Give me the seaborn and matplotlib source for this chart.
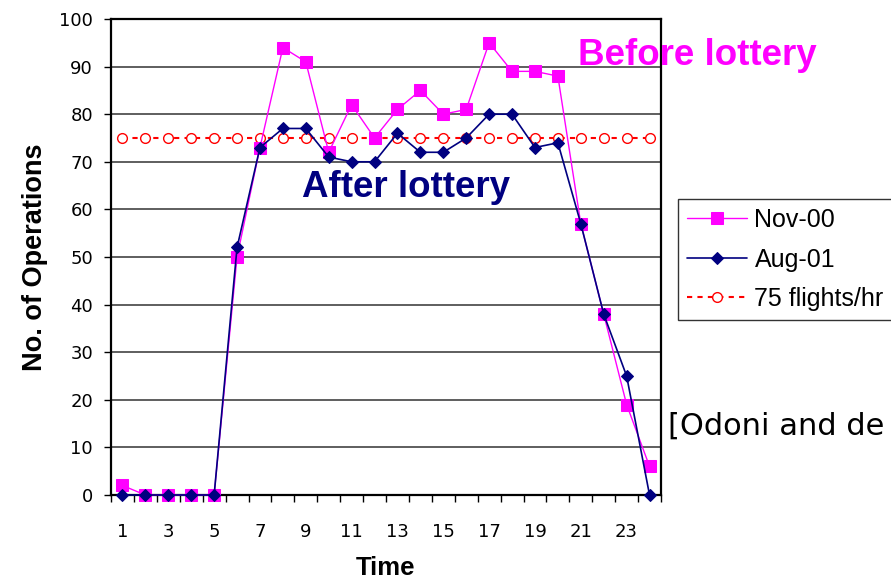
import matplotlib
matplotlib.use("Agg")
import matplotlib.pyplot as plt
import seaborn as sns
import numpy as np

# Hourly operations counts
hours = list(range(1, 25))
nov_00 = [2, 0, 0, 0, 0, 50, 73, 94, 91, 72, 82, 75, 81, 85, 80, 81, 95, 89, 89, 88, 57, 38, 19, 6]
aug_01 = [0, 0, 0, 0, 0, 52, 73, 77, 77, 71, 70, 70, 76, 72, 72, 75, 80, 80, 73, 74, 57, 38, 25, 0]
cap_level = 75
cap_line = [cap_level] * len(hours)

series_labels = ["Nov-00", "Aug-01", "75 flights/hr"]
x_tick_labels = [str(h) for h in range(1, 24, 2)]
y_ticks = list(range(0, 101, 10))

sns.set_style("white")
plt.rcParams["font.family"] = ["Liberation Sans", "DejaVu Sans"]
plt.rcParams.update({"text.color": "black", "axes.labelcolor": "black",
                     "xtick.color": "black", "ytick.color": "black"})

W, H = 891, 581
fig = plt.figure(figsize=(W / 100, H / 100), dpi=100)
ax = fig.add_axes([111 / W, 1 - 495 / H, 550 / W, 476 / H])

sns.lineplot(x=hours, y=nov_00, ax=ax, color="#FF00FF", lw=1.0, marker="s",
             markersize=8, markeredgecolor="#FF00FF", label=series_labels[0],
             clip_on=False, zorder=4)
sns.lineplot(x=hours, y=aug_01, ax=ax, color="#000080", lw=1.2, marker="D",
             markersize=6.5, markeredgecolor="#000080", label=series_labels[1],
             clip_on=False, zorder=5)
sns.lineplot(x=hours, y=cap_line, ax=ax, color="#FF0000", lw=1.5,
             linestyle=(0, (2.5, 2.5)), marker="o", markersize=7,
             markerfacecolor="white", markeredgecolor="#FF0000",
             markeredgewidth=1.0, label=series_labels[2], zorder=3)

ax.set_xlim(0.5, 24.5)
ax.set_ylim(0, 100)
ax.set_yticks(y_ticks)
ax.set_xticks(range(1, 24, 2))
ax.set_xticks(np.arange(0.5, 25, 1), minor=True)
ax.set_xticklabels(x_tick_labels, fontfamily="DejaVu Sans")
ax.set_yticklabels([str(v) for v in y_ticks], fontfamily="DejaVu Sans")
ax.tick_params(axis="x", which="major", length=0, pad=20, labelsize=13)
ax.tick_params(axis="x", which="minor", length=5, width=1, color="black", direction="out", bottom=True)
ax.tick_params(axis="y", which="major", length=5, width=1, color="black", direction="out",
               left=True, pad=8, labelsize=13)

ax.yaxis.grid(True, color="#333333", lw=1.1)
ax.set_axisbelow(True)
for side in ["left", "right", "top", "bottom"]:
    ax.spines[side].set_visible(True)
    ax.spines[side].set_color("black")
    ax.spines[side].set_linewidth(1.6)

ax.set_xlabel("Time", fontsize=18.5, fontweight="bold", labelpad=11)
ax.set_ylabel("No. of Operations", fontsize=19.5, fontweight="bold", labelpad=8)

handles, labels = ax.get_legend_handles_labels()
ax.get_legend().remove()
leg = fig.legend(handles, labels, loc="upper left", bbox_to_anchor=(678 / W, 1 - 199 / H),
                 borderaxespad=0, frameon=True, fancybox=False, fontsize=18,
                 handlelength=2.4, labelspacing=0.62, borderpad=0.36, handletextpad=0.3)
leg.get_frame().set_edgecolor("black")
leg.get_frame().set_linewidth(1.0)

fig.text(578 / W, 1 - 65 / H, "Before lottery", color="#FF00FF", fontsize=26.5,
         fontweight="bold", va="baseline", ha="left", zorder=10)
fig.text(302 / W, 1 - 197 / H, "After lottery", color="#000080", fontsize=26.5,
         fontweight="bold", va="baseline", ha="left", zorder=10)
fig.text(668 / W, 1 - 435 / H, "[Odoni and de", color="black", fontsize=22,
         fontfamily="DejaVu Sans", va="baseline", ha="left", zorder=10)

fig.savefig("out.png", dpi=100)
